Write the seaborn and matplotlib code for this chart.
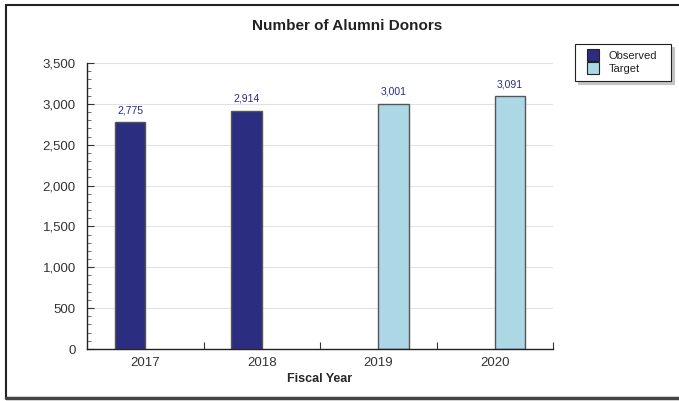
import numpy as np
import matplotlib
matplotlib.use("Agg")
import matplotlib.pyplot as plt
from matplotlib.lines import Line2D
from matplotlib.ticker import MultipleLocator, FuncFormatter, FixedLocator
import pandas as pd
import seaborn as sns

# data
years = ['2017', '2018', '2019', '2020']
observed = [2775, 2914, np.nan, np.nan]
target = [np.nan, np.nan, 3001, 3091]

df = pd.DataFrame({
    'year': years * 2,
    'value': observed + target,
    'series': ['Observed'] * 4 + ['Target'] * 4,
})

sns.set_style('white')
plt.rcParams['font.family'] = ['Liberation Sans', 'DejaVu Sans']

fig = plt.figure(figsize=(6.79, 4.01), dpi=100)
ax = fig.add_axes([87 / 679, 1 - 349 / 401, 466 / 679, 286 / 401])

palette = {'Observed': '#2b2d80', 'Target': '#acd7e4'}
sns.barplot(data=df, x='year', y='value', hue='series', order=years,
            hue_order=['Observed', 'Target'], palette=palette, width=0.52,
            edgecolor='#555555', linewidth=1, saturation=1, ax=ax, legend=False)

# value labels
for cont in ax.containers:
    for bar in cont:
        h = bar.get_height()
        if np.isnan(h) or h == 0:
            continue
        ax.annotate(f'{h:,.0f}', (bar.get_x() + bar.get_width() / 2, h),
                    xytext=(0, 5), textcoords='offset points', ha='center',
                    va='bottom', fontsize=7.5, color='#2b2d80')

ax.set_ylim(0, 3500)
ax.set_xlim(-0.5, 3.5)
ax.yaxis.set_major_locator(MultipleLocator(500))
ax.yaxis.set_minor_locator(MultipleLocator(100))
ax.yaxis.set_major_formatter(FuncFormatter(lambda v, p: f'{v:,.0f}'))
ax.xaxis.set_minor_locator(FixedLocator([0.5, 1.5, 2.5, 3.5]))
ax.grid(axis='y', color='#e2e2e2', linewidth=0.8)
ax.set_axisbelow(True)

ax.tick_params(axis='y', which='major', direction='in', length=5, width=0.8,
               color='#333333', labelsize=9.5, labelcolor='#333333', left=True, pad=8)
ax.tick_params(axis='y', which='minor', direction='in', length=3, width=0.6,
               color='#555555', left=True)
ax.tick_params(axis='x', which='major', length=0, labelsize=9.5,
               labelcolor='#333333', pad=6)
ax.tick_params(axis='x', which='minor', direction='in', length=5, width=0.8,
               color='#333333', bottom=True)

for s in ['top', 'right']:
    ax.spines[s].set_visible(False)
for s in ['left', 'bottom']:
    ax.spines[s].set_color('#222222')
    ax.spines[s].set_linewidth(1)

ax.set_ylabel('')
ax.set_xlabel('Fiscal Year', fontsize=9, fontweight='bold', labelpad=3)

fig.text(347 / 679, 1 - 26 / 401, 'Number of Alumni Donors', ha='center',
         va='center', fontsize=11, fontweight='bold', color='#222222')

# legend with square markers
handles = [Line2D([], [], linestyle='none', marker='s', markersize=8,
                  markerfacecolor=palette[k], markeredgecolor='#222222',
                  markeredgewidth=0.8) for k in ['Observed', 'Target']]
leg = fig.legend(handles, ['Observed', 'Target'], loc='upper left',
                 bbox_to_anchor=(575 / 679, 1 - 83 / 401, 96 / 679, 39 / 401),
                 mode='expand', fontsize=8, frameon=True, fancybox=False,
                 shadow={'facecolor': '#c4c4c4', 'edgecolor': '#c4c4c4', 'alpha': 1},
                 handlelength=2.0, handletextpad=0.4, borderpad=0.62,
                 labelspacing=0.3, borderaxespad=0)
leg.get_frame().set_edgecolor('#222222')
leg.get_frame().set_linewidth(0.8)
for t in leg.get_texts():
    t.set_color('#222222')

# outer frame
fig.add_artist(Line2D([6 / 679, 6 / 679], [1 - 5 / 401, 1 - 398 / 401],
                      transform=fig.transFigure, color='#222222', linewidth=1.5))
fig.add_artist(Line2D([6 / 679, 1], [1 - 5 / 401, 1 - 5 / 401],
                      transform=fig.transFigure, color='#222222', linewidth=1.5))
fig.add_artist(Line2D([6 / 679, 1], [1 - 398 / 401, 1 - 398 / 401],
                      transform=fig.transFigure, color='#444444', linewidth=2.5))

fig.savefig('out.png', dpi=100)
